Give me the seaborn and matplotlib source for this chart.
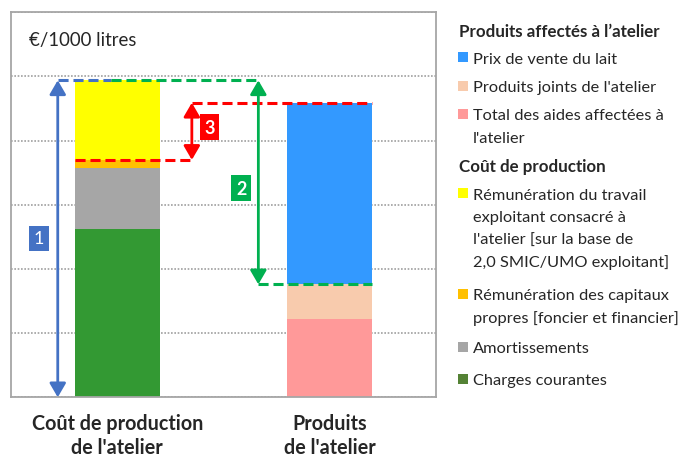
import matplotlib
matplotlib.use("Agg")
import matplotlib.pyplot as plt
import matplotlib.transforms as mtransforms
from matplotlib.patches import Rectangle
import seaborn as sns
import pandas as pd
import numpy as np

# ---------------- data (€/1000 litres) ----------------
categories = ["Coût de production\nde l'atelier", "Produits\nde l'atelier"]

cost_labels = ["Charges courantes", "Amortissements",
               "Rémunération des capitaux propres", "Rémunération du travail exploitant"]
cost_values = [263, 95, 12, 124]
cost_colors = ["#339933", "#A6A6A6", "#FFC000", "#FFFF00"]

prod_labels = ["Total des aides affectées à l'atelier", "Produits joints de l'atelier",
               "Prix de vente du lait"]
prod_values = [122, 54, 283]
prod_colors = ["#FF9999", "#F8CBAD", "#3399FF"]

unit_label = "€/1000 litres"

legend_title1 = "Produits affectés à l’atelier"
legend_prod = [("Prix de vente du lait", "#3399FF"),
               ("Produits joints de l'atelier", "#F8CBAD"),
               ("Total des aides affectées à\nl'atelier", "#FF9999")]
legend_title2 = "Coût de production"
legend_cost = [("Rémunération du travail\nexploitant consacré à\nl'atelier [sur la base de\n2,0 SMIC/UMO exploitant]", "#FFFF00"),
               ("Rémunération des capitaux\npropres [foncier et financier]", "#FFC000"),
               ("Amortissements", "#A6A6A6"),
               ("Charges courantes", "#548235")]

# ---------------- style ----------------
sns.set_theme(style="white")
plt.rcParams["font.family"] = ["Lato", "DejaVu Sans"]

W, H = 689, 460
fig = plt.figure(figsize=(W / 100, H / 100), dpi=100)
ax = fig.add_axes([11 / W, 1 - 398.3 / H, (436 - 11) / W, (398.3 - 13.3) / H])

# stacked bars via layered cumulative totals
layers = []
cum = np.cumsum(cost_values)
for lab, top, col in zip(cost_labels, cum, cost_colors):
    layers.append((categories[0], lab, top, col))
cum2 = np.cumsum(prod_values)
for lab, top, col in zip(prod_labels, cum2, prod_colors):
    layers.append((categories[1], lab, top, col))
df = pd.DataFrame(layers, columns=["cat", "label", "top", "color"])
df = df.sort_values("top", ascending=False)
for _, r in df.iterrows():
    sns.barplot(x=[r["cat"]], y=[r["top"]], order=categories, color=r["color"],
                width=0.4, saturation=1, ax=ax, linewidth=0, zorder=2)

ax.set_xlim(-0.5, 1.5)
ax.set_ylim(0, 600)
ax.set_yticks(np.arange(0, 700, 100))
ax.set_yticklabels([])
ax.tick_params(axis="y", length=0)
ax.yaxis.grid(True, color="#A0A0A0", linestyle=(0, (1, 1)), linewidth=1.2, zorder=0)
ax.set_axisbelow(True)
ax.set_xlabel("")
ax.set_ylabel("")
for s in ax.spines.values():
    s.set_color("#A6A6A6")
    s.set_linewidth(1.3)
ax.set_xticks([0, 1])
ax.set_xticklabels([])
ax.tick_params(axis="x", length=0)


def fy(ypx):
    return 1 - ypx / H


# category labels (two lines each) under the bars
trans = mtransforms.blended_transform_factory(ax.transData, fig.transFigure)
for i, cat in enumerate(categories):
    for j, line in enumerate(cat.split("\n")):
        ax.text(i, fy(430 + j * 24), line, transform=trans, fontsize=14.2,
                fontweight="bold", ha="center", va="baseline", clip_on=False)

fig.text(29 / W, fy(46), unit_label, fontsize=13.4, ha="left", va="baseline")

# ---------------- annotations ----------------
total_cost = cum[-1]
cost_wo_labour = cum[-2]
total_prod = cum2[-1]
aides_joints = cum2[-2]

blue, green, red = "#4472C4", "#00B050", "#FF0000"
x1, x2, x3 = -0.28, 0.664, 0.351
bar_left0 = -0.2
bar_right1 = 1.2


def dbl_arrow(x, y0, y1, color):
    ax.annotate("", xy=(x, y1), xytext=(x, y0),
                arrowprops=dict(arrowstyle="<|-|>,head_length=0.6,head_width=0.35",
                                color=color, lw=2,
                                mutation_scale=14, shrinkA=0, shrinkB=0),
                zorder=5, annotation_clip=False)


dash = (0, (3.3, 1.6))
ax.plot([x1, -0.03], [total_cost, total_cost], color=blue, lw=2.2, ls=dash, zorder=4)
ax.plot([-0.03, x2], [total_cost, total_cost], color=green, lw=2.2, ls=dash, zorder=4)
ax.plot([x2, bar_right1], [aides_joints, aides_joints], color=green, lw=2.2, ls=dash, zorder=4)
ax.plot([x3, bar_right1], [total_prod, total_prod], color=red, lw=2.2, ls=dash, zorder=4)
ax.plot([bar_left0, x3], [cost_wo_labour, cost_wo_labour], color=red, lw=2.2, ls=dash, zorder=4)

dbl_arrow(x1, 0, total_cost, blue)
dbl_arrow(x2, aides_joints, total_cost, green)
dbl_arrow(x3, cost_wo_labour, total_prod, red)


def num_box(x, y, s, color, weight):
    ax.text(x, y, s, color="white", fontsize=13, fontweight=weight, ha="center",
            va="center", zorder=6,
            bbox=dict(boxstyle="square,pad=0.25", fc=color, ec="none"))


num_box(-0.368, 248, "1", blue, "normal")
num_box(0.583, 326, "2", green, "bold")
num_box(0.434, 421, "3", red, "bold")

# ---------------- legend (custom) ----------------
fs = 11.8
lh = 22.4

fig.text(459 / W, fy(31.7 + 5.5), legend_title1, fontsize=12.2, fontweight="bold",
         ha="left", va="baseline")
fig.text(459 / W, fy(166.7 + 5.5), legend_title2, fontsize=12.2, fontweight="bold",
         ha="left", va="baseline")


def legend_item(ycenter, text, color):
    fig.patches.append(Rectangle((458 / W, fy(ycenter + 5)), 10 / W, 10 / H,
                                 transform=fig.transFigure, fc=color, ec="none"))
    for i, line in enumerate(text.split("\n")):
        fig.text(473 / W, fy(ycenter + 5.5 + i * lh), line, fontsize=fs,
                 ha="left", va="baseline")


for (t, c), yc in zip(legend_prod, [58.3, 86.7, 115]):
    legend_item(yc, t, c)
for (t, c), yc in zip(legend_cost, [194.3, 295, 347.7, 380]):
    legend_item(yc, t, c)

fig.savefig("out.png", dpi=100)
